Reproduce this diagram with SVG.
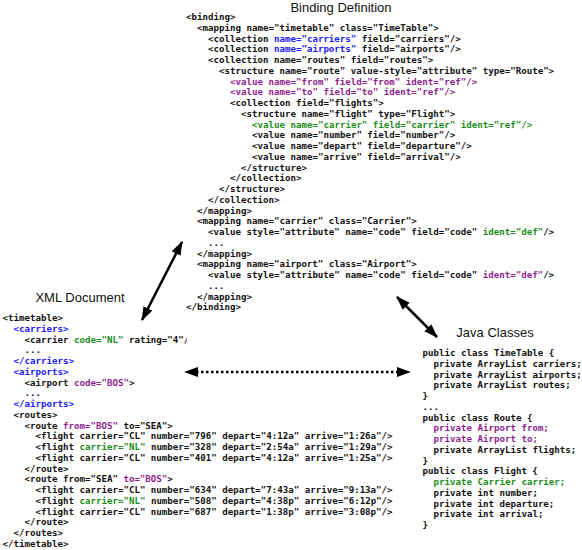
<svg xmlns="http://www.w3.org/2000/svg" width="582" height="550" viewBox="0 0 582 550">
<style>
.t{font-family:"Liberation Sans",Arial,sans-serif;font-size:13px;fill:#111;text-anchor:middle}
.c{font-family:"DejaVu Sans Mono","Liberation Mono",monospace;font-size:9.13px;font-weight:bold;fill:#111}
.b{fill:#1a1aff}
.p{fill:#8e1e8e}
.g{fill:#198c19}
.ln{stroke:#000;stroke-width:2.5;fill:none}
</style>
<defs>
<marker id="ah" viewBox="0 0 14 10" refX="13" refY="5" markerWidth="14" markerHeight="10" markerUnits="userSpaceOnUse" orient="auto-start-reverse"><path d="M0,0 L14,5 L0,10 z" fill="#000"/></marker>
<clipPath id="clipc"><rect x="0" y="330" width="187" height="16"/></clipPath>
</defs>
<g id="binding">
<text class="t" x="341" y="12">Binding Definition</text>
<text class="c" x="186" y="20">&lt;binding&gt;</text>
<text class="c" x="197" y="30.75">&lt;mapping name="timetable" class="TimeTable"&gt;</text>
<text class="c" x="208" y="41.5">&lt;collection <tspan class="b">name="carriers"</tspan> field="carriers"/&gt;</text>
<text class="c" x="208" y="52.25">&lt;collection <tspan class="b">name="airports"</tspan> field="airports"/&gt;</text>
<text class="c" x="208" y="63">&lt;collection name="routes" field="routes"&gt;</text>
<text class="c" x="219" y="73.75">&lt;structure name="route" value-style="attribute" type="Route"&gt;</text>
<text class="c p" x="230" y="84.5">&lt;value name="from" field="from" ident="ref"/&gt;</text>
<text class="c p" x="230" y="95.25">&lt;value name="to" field="to" ident="ref"/&gt;</text>
<text class="c" x="230" y="106">&lt;collection field="flights"&gt;</text>
<text class="c" x="241" y="116.75">&lt;structure name="flight" type="Flight"&gt;</text>
<text class="c g" x="252" y="127.5">&lt;value name="carrier" field="carrier" ident="ref"/&gt;</text>
<text class="c" x="252" y="138.25">&lt;value name="number" field="number"/&gt;</text>
<text class="c" x="252" y="149">&lt;value name="depart" field="departure"/&gt;</text>
<text class="c" x="252" y="159.75">&lt;value name="arrive" field="arrival"/&gt;</text>
<text class="c" x="241" y="170.5">&lt;/structure&gt;</text>
<text class="c" x="230" y="181.25">&lt;/collection&gt;</text>
<text class="c" x="219" y="192">&lt;/structure&gt;</text>
<text class="c" x="208" y="202.75">&lt;/collection&gt;</text>
<text class="c" x="197" y="213.5">&lt;/mapping&gt;</text>
<text class="c" x="197" y="224.25">&lt;mapping name="carrier" class="Carrier"&gt;</text>
<text class="c" x="208" y="235">&lt;value style="attribute" name="code" field="code" <tspan class="g">ident="def"</tspan>/&gt;</text>
<text class="c" x="208" y="245.75">...</text>
<text class="c" x="197" y="256.5">&lt;/mapping&gt;</text>
<text class="c" x="197" y="267.25">&lt;mapping name="airport" class="Airport"&gt;</text>
<text class="c" x="208" y="278">&lt;value style="attribute" name="code" field="code" <tspan class="p">ident="def"</tspan>/&gt;</text>
<text class="c" x="208" y="288.75">...</text>
<text class="c" x="197" y="299.5">&lt;/mapping&gt;</text>
<text class="c" x="186" y="310.25">&lt;/binding&gt;</text>
</g>
<g id="xml-document">
<text class="t" x="80" y="301.5">XML Document</text>
<text class="c" x="2.5" y="321">&lt;timetable&gt;</text>
<text class="c b" x="13.5" y="331.75">&lt;carriers&gt;</text>
<text class="c" x="24.5" y="342.5" clip-path="url(#clipc)">&lt;carrier <tspan class="g">code="NL"</tspan> rating="4"/&gt;</text>
<text class="c" x="24.5" y="353.25">...</text>
<text class="c b" x="13.5" y="364">&lt;/carriers&gt;</text>
<text class="c b" x="13.5" y="374.75">&lt;airports&gt;</text>
<text class="c" x="24.5" y="385.5">&lt;airport <tspan class="p">code="BOS"</tspan>&gt;</text>
<text class="c" x="24.5" y="396.25">...</text>
<text class="c b" x="13.5" y="407">&lt;/airports&gt;</text>
<text class="c" x="13.5" y="417.75">&lt;routes&gt;</text>
<text class="c" x="24.5" y="428.5">&lt;route <tspan class="p">from="BOS"</tspan> to="SEA"&gt;</text>
<text class="c" x="35.5" y="439.25">&lt;flight carrier="CL" number="796" depart="4:12a" arrive="1:26a"/&gt;</text>
<text class="c" x="35.5" y="450">&lt;flight <tspan class="g">carrier="NL"</tspan> number="328" depart="2:54a" arrive="1:29a"/&gt;</text>
<text class="c" x="35.5" y="460.75">&lt;flight carrier="CL" number="401" depart="4:12a" arrive="1:25a"/&gt;</text>
<text class="c" x="24.5" y="471.5">&lt;/route&gt;</text>
<text class="c" x="24.5" y="482.25">&lt;route from="SEA" <tspan class="p">to="BOS"</tspan>&gt;</text>
<text class="c" x="35.5" y="493">&lt;flight carrier="CL" number="634" depart="7:43a" arrive="9:13a"/&gt;</text>
<text class="c" x="35.5" y="503.75">&lt;flight <tspan class="g">carrier="NL"</tspan> number="508" depart="4:38p" arrive="6:12p"/&gt;</text>
<text class="c" x="35.5" y="514.5">&lt;flight carrier="CL" number="687" depart="1:38p" arrive="3:08p"/&gt;</text>
<text class="c" x="24.5" y="525.25">&lt;/route&gt;</text>
<text class="c" x="13.5" y="536">&lt;/routes&gt;</text>
<text class="c" x="2.5" y="546.75">&lt;/timetable&gt;</text>
</g>
<g id="java-classes">
<text class="t" x="495" y="336.5">Java Classes</text>
<text class="c" x="422.5" y="356">public class TimeTable {</text>
<text class="c" x="433.5" y="366.75">private ArrayList carriers;</text>
<text class="c" x="433.5" y="377.5">private ArrayList airports;</text>
<text class="c" x="433.5" y="388.25">private ArrayList routes;</text>
<text class="c" x="422.5" y="399">}</text>
<text class="c" x="422.5" y="409.75">...</text>
<text class="c" x="422.5" y="420.5">public class Route {</text>
<text class="c p" x="433.5" y="431.25">private Airport from;</text>
<text class="c p" x="433.5" y="442">private Airport to;</text>
<text class="c" x="433.5" y="452.75">private ArrayList flights;</text>
<text class="c" x="422.5" y="463.5">}</text>
<text class="c" x="422.5" y="474.25">public class Flight {</text>
<text class="c g" x="433.5" y="485">private Carrier carrier;</text>
<text class="c" x="433.5" y="495.75">private int number;</text>
<text class="c" x="433.5" y="506.5">private int departure;</text>
<text class="c" x="433.5" y="517.25">private int arrival;</text>
<text class="c" x="422.5" y="528">}</text>
</g>
<g id="connectors">
<path class="ln" d="M182,242 L142,320" marker-start="url(#ah)" marker-end="url(#ah)"/>
<path class="ln" d="M397,297 L437,337" marker-start="url(#ah)" marker-end="url(#ah)"/>
<path class="ln" d="M196,372 L400,372" stroke-dasharray="2.5 2.5"/>
<path d="M184,372 L198,367 L198,377 z" fill="#000"/>
<path d="M411,372 L397,367 L397,377 z" fill="#000"/>
</g>
</svg>
